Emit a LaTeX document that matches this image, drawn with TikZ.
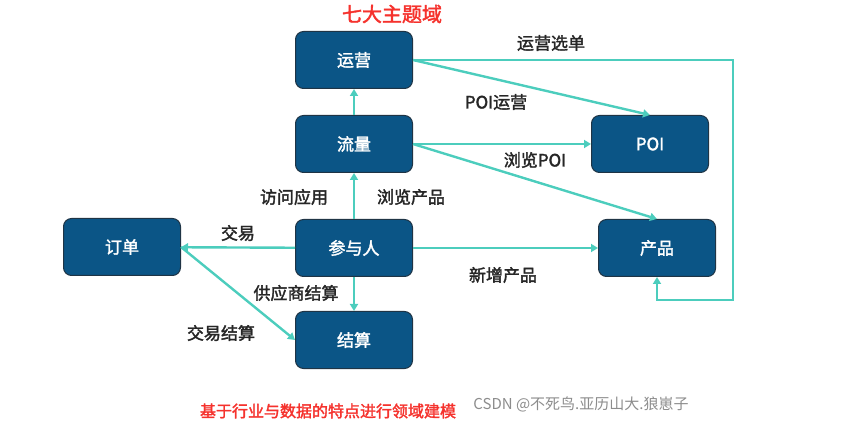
\documentclass[tikz,border=0pt]{standalone}
\usepackage{fontspec}
\setmainfont{Noto Sans CJK SC}[AutoFakeBold=2]
\usepackage{xcolor}
\usepackage{tikz}
\usetikzlibrary{arrows.meta}

\definecolor{entblue}{HTML}{0B5586}
\definecolor{entline}{HTML}{1F3445}
\definecolor{relteal}{HTML}{4CCDBD}
\definecolor{notered}{HTML}{F5322D}

\begin{document}
\begin{tikzpicture}[x=1pt,y=-1pt,
      every node/.style={font=\bfseries\fontsize{17}{19}\selectfont},
      ent/.style={
        draw=entline, line width=1pt, fill=entblue, text=white,
        rounded corners=8pt, minimum width=117pt, minimum height=57pt,
        inner sep=0pt
      },
      lbl/.style={text=black!85},
      note/.style={text=notered},
      rel/.style={draw=relteal, line width=2.4pt,
        -{Triangle[length=7pt,width=8pt]}}
    ]
    \useasboundingbox (0,0) rectangle (844,422);

    \node[ent] (yy) at (354,60) {运营};
    \node[ent] (ll) at (354,144) {流量};
    \node[ent] (cyr) at (354,248) {参与人};
    \node[ent] (js) at (354,340) {结算};
    \node[ent] (dd) at (122,247) {订单};
    \node[ent] (poi) at (650,144) {POI};
    \node[ent] (cp) at (657,248) {产品};
    \coordinate (loopR) at (733,300);

    \draw[rel] (cyr) -- (ll);
    \draw[rel] (ll) -- (yy);
    \draw[rel] (yy.east) -- (poi.north);
    \draw[rel] (yy.east) -| (loopR) -| (cp.south);
    \draw[rel] (ll.east) -- (poi.west);
    \draw[rel] (ll.east) -- (cp.north);
    \draw[rel] (cyr) -- (dd);
    \draw[rel] (cyr) -- (js);
    \draw[rel] (dd.east) -- (js.west);
    \draw[rel] (cyr) -- (cp);

    \node[lbl] (l1) at (551,43) {运营选单};
    \node[lbl] (l2) at (496,102) {POI运营};
    \node[lbl] (l3) at (535,160) {浏览POI};
    \node[lbl] (l4) at (411,197) {浏览产品};
    \node[lbl] (l5) at (294,197) {访问应用};
    \node[lbl] (l6) at (238,233) {交易};
    \node[lbl] (l7) at (296,293) {供应商结算};
    \node[lbl] (l8) at (221,333) {交易结算};
    \node[lbl] (l9) at (503,275) {新增产品};

    \node[note, font=\bfseries\fontsize{20}{22}\selectfont] (top) at (392,14) {七大主题域};
    \node[note, font=\bfseries\fontsize{16}{18}\selectfont] (bottom) at (328,411) {基于行业与数据的特点进行领域建模};
    \node[text=black!45, font=\fontsize{15}{17}\selectfont] (mark) at (581,404) {CSDN @不死鸟.亚历山大.狼崽子};
  \end{tikzpicture}
\end{document}
